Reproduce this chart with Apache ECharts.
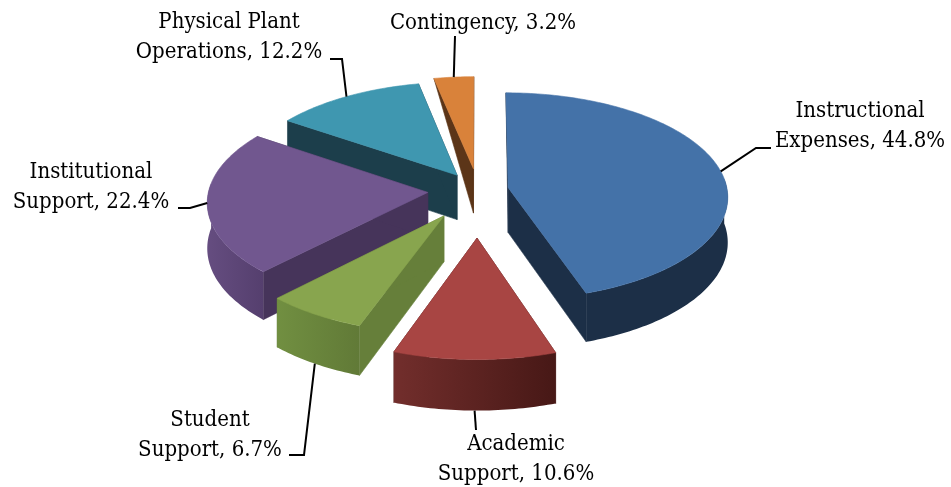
<!DOCTYPE html>
<html><head><meta charset="utf-8">
<style>html,body{margin:0;padding:0;background:#fff}#c{width:951px;height:487px}</style>
<script src="https://cdn.jsdelivr.net/npm/echarts@6/dist/echarts.min.js"></script>
</head><body><div id="c"></div>
<script>
// Data
const categories = [
  ['Instructional', 'Expenses'],
  ['Academic', 'Support'],
  ['Student', 'Support'],
  ['Institutional', 'Support'],
  ['Physical Plant', 'Operations'],
  ['Contingency']
];
const shares = [44.8, 10.6, 6.7, 22.4, 12.2, 3.2];
// Explosion of each slice, as a fraction of the radius
const explode = [0.14, 0.45, 0.29, 0.23, 0.175, 0.21];

// Style
const topColors  = ['#4472a8', '#a84543', '#88a54e', '#71578f', '#3f97b0', '#d9823a'];
const cutColors  = ['#1c2f47', '#4a1a18', '#667f3a', '#46345a', '#1c3e4b', '#5c3518'];
const wallColors = [
  ['#1c2f47', '#1c2f47'],
  ['#722e2c', '#471816'],
  ['#718f41', '#617a37'],
  ['#654d80', '#553f6e'],
  ['#1c3e4b', '#1c3e4b'],
  ['#5c3518', '#5c3518']
];
// Leading cut face narrows to nothing at the rim on these slices
const taperLeadingFace = [true, false, false, false, false, true];
// Layout
const projection = { cx: 478, cy: 190, rx: 219, ry: 103, k: 0.082, depth: 45 };
const labelBox = [
  { x: 860, y: 126, leader: [[756, 148], [771, 148]] },
  { x: 516, y: 459, leader: [[476, 430]] },
  { x: 210, y: 435, leader: [[304, 455], [289, 455]] },
  { x: 91,  y: 187, leader: [[190, 208], [178, 208]] },
  { x: 229, y: 37,  leader: [[342, 59], [330, 59]] },
  { x: 483, y: 23,  leader: [[455, 36]] }
];
const FONT = '"DejaVu Serif Condensed", "DejaVu Serif", serif';
const FONT_SIZE = 22;

const total = shares.reduce((a, b) => a + b, 0);
const starts = [];
shares.reduce((acc, v, i) => { starts[i] = acc; return acc + v / total * 360; }, 0);
const rad = d => d * Math.PI / 180;

function project(X, Y, drop) {
  const p = projection, d = 1 - p.k * Y;
  return [p.cx + p.rx * X / d, p.cy + p.ry * Y / d + (drop ? p.depth / d : 0)];
}
function sliceGeom(i) {
  const a0 = starts[i], a1 = a0 + shares[i] / total * 360, mid = (a0 + a1) / 2;
  const ox = explode[i] * Math.sin(rad(mid)), oy = -explode[i] * Math.cos(rad(mid));
  const at = (deg, r, drop) => project(ox + r * Math.sin(rad(deg)), oy - r * Math.cos(rad(deg)), drop);
  return { a0, a1, mid, at };
}
function arc(g, from, to, drop) {
  const pts = [], n = Math.max(1, Math.ceil(Math.abs(to - from)));
  for (let j = 0; j <= n; j++) pts.push(g.at(from + (to - from) * j / n, 1, drop));
  return pts;
}
const drawOrder = shares.map((_, i) => i)
  .sort((a, b) => sliceGeom(a).at(0, 0, false)[1] - sliceGeom(b).at(0, 0, false)[1]);

function renderSlice(params, api) {
  const i = api.value(0), g = sliceGeom(i), kids = [];
  const poly = (points, fill) => kids.push({
    type: 'polygon', shape: { points },
    style: { fill, stroke: typeof fill === 'string' ? fill : 'none', lineWidth: 0.6 }
  });
  // cut faces
  poly([g.at(g.a0, 0, false), g.at(g.a0, 1, false), g.at(g.a0, 1, !taperLeadingFace[i]), g.at(g.a0, 0, true)], cutColors[i]);
  poly([g.at(g.a1, 0, false), g.at(g.a1, 1, false), g.at(g.a1, 1, true), g.at(g.a1, 0, true)], cutColors[i]);
  // outer wall, front part only
  const lo = Math.max(g.a0, 85), hi = Math.min(g.a1, 275);
  if (hi > lo) {
    const up = arc(g, lo, hi, false), down = arc(g, hi, lo, true);
    const xs = up.map(p => p[0]);
    poly(up.concat(down), new echarts.graphic.LinearGradient(
      Math.min(...xs), 0, Math.max(...xs), 0,
      [{ offset: 0, color: wallColors[i][0] }, { offset: 1, color: wallColors[i][1] }], true));
  }
  // top face
  poly([g.at(0, 0, false)].concat(arc(g, g.a0, g.a1, false)), topColors[i]);
  return { type: 'group', children: kids };
}
function renderLabel(params, api) {
  const i = api.value(0), g = sliceGeom(i), b = labelBox[i];
  const front = Math.cos(rad(g.mid)) < -0.5;
  const start = g.at(g.mid, 1, front);
  const lines = categories[i].slice();
  lines[lines.length - 1] += ', ' + shares[i].toFixed(1) + '%';
  return { type: 'group', children: [
    { type: 'polyline', shape: { points: [start].concat(b.leader) },
      style: { fill: 'none', stroke: '#000', lineWidth: 2 } },
    { type: 'text', x: b.x, y: b.y,
      style: { text: lines.join('\n'), font: FONT_SIZE + 'px ' + FONT, fill: '#000',
               align: 'center', verticalAlign: 'middle', lineHeight: 30 } }
  ]};
}
const chart = echarts.init(document.getElementById('c'), null, { renderer: 'canvas' });
chart.setOption({
  animation: false,
  backgroundColor: '#fff',
  series: [
    { type: 'custom', coordinateSystem: 'none', silent: true, renderItem: renderSlice,
      data: drawOrder.map(i => [i, shares[i]]), z: 1 },
    { type: 'custom', coordinateSystem: 'none', silent: true, renderItem: renderLabel,
      data: shares.map((v, i) => [i, v]), z: 2 }
  ]
});
</script></body></html>
